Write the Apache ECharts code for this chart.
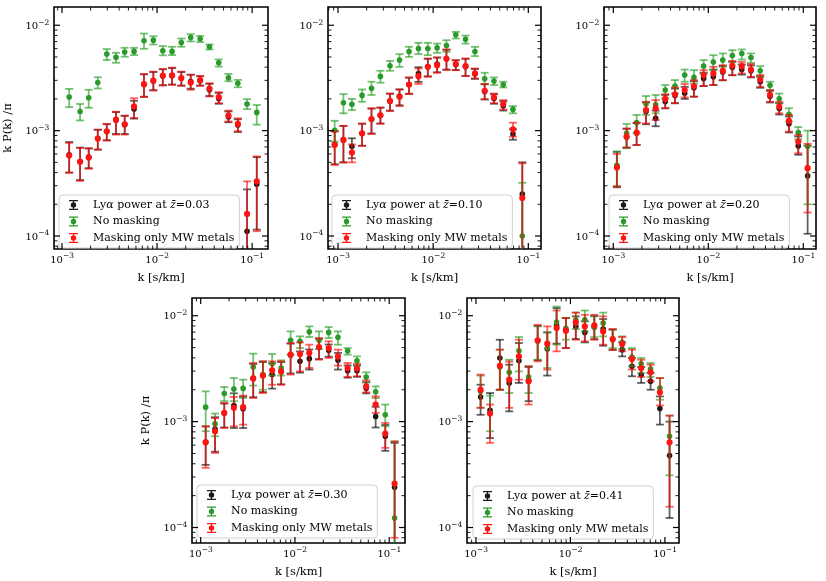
<!DOCTYPE html>
<html>
<head>
<meta charset="utf-8">
<script src="https://cdn.jsdelivr.net/npm/echarts@6/dist/echarts.min.js"></script>
<style>
html, body { margin: 0; padding: 0; background: #fff; }
#chart { width: 826px; height: 581px; }
</style>
</head>
<body>
<div id="chart"></div>
<script>
// k bins [s/km] for each redshift panel
const k1 = [1.19e-3, 1.55e-3, 1.91e-3, 2.38e-3, 2.96e-3, 3.70e-3, 4.57e-3, 5.73e-3, 7.29e-3, 9.14e-3, 1.15e-2, 1.44e-2, 1.80e-2, 2.26e-2, 2.84e-2, 3.56e-2, 4.46e-2, 5.64e-2, 7.08e-2, 8.85e-2, 0.112];
const k2 = [9.23e-4, 1.14e-3, 1.40e-3, 1.79e-3, 2.25e-3, 2.79e-3, 3.52e-3, 4.43e-3, 5.58e-3, 7.01e-3, 8.79e-3, 1.10e-2, 1.38e-2, 1.73e-2, 2.19e-2, 2.75e-2, 3.48e-2, 4.36e-2, 5.46e-2, 6.90e-2, 8.65e-2];
const k3 = [1.09e-3, 1.38e-3, 1.76e-3, 2.21e-3, 2.79e-3, 3.52e-3, 4.46e-3, 5.64e-3, 7.06e-3, 8.93e-3, 1.13e-2, 1.42e-2, 1.79e-2, 2.25e-2, 2.81e-2, 3.52e-2, 4.46e-2, 5.58e-2, 7.06e-2, 8.85e-2, 0.111];
const k4 = [1.13e-3, 1.42e-3, 1.78e-3, 2.25e-3, 2.82e-3, 3.61e-3, 4.57e-3, 5.73e-3, 7.14e-3, 8.99e-3, 1.13e-2, 1.42e-2, 1.80e-2, 2.28e-2, 2.86e-2, 3.62e-2, 4.55e-2, 5.70e-2, 7.18e-2, 9.08e-2, 0.114];
const k5 = [1.12e-3, 1.41e-3, 1.79e-3, 2.25e-3, 2.85e-3, 3.61e-3, 4.50e-3, 5.69e-3, 7.14e-3, 8.95e-3, 1.14e-2, 1.42e-2, 1.79e-2, 2.22e-2, 2.80e-2, 3.53e-2, 4.48e-2, 5.61e-2, 7.05e-2, 8.85e-2, 0.112];

// [value, lower, upper] of k P(k)/pi
const black1 = [[5.9e-4,4.0e-4,7.8e-4],[5.1e-4,3.4e-4,6.9e-4],[5.6e-4,4.4e-4,6.8e-4],[8.4e-4,6.6e-4,1.02e-3],[9.8e-4,8.1e-4,1.15e-3],[1.26e-3,9.3e-4,1.50e-3],[1.14e-3,9.3e-4,1.38e-3],[1.60e-3,1.30e-3,1.92e-3],[2.74e-3,2.10e-3,3.42e-3],[2.96e-3,2.42e-3,3.60e-3],[3.30e-3,2.70e-3,3.82e-3],[3.32e-3,2.74e-3,3.92e-3],[3.14e-3,2.68e-3,3.60e-3],[2.92e-3,2.50e-3,3.40e-3],[2.98e-3,2.68e-3,3.28e-3],[2.44e-3,2.13e-3,2.78e-3],[2.02e-3,1.80e-3,2.28e-3],[1.35e-3,1.20e-3,1.52e-3],[1.13e-3,9.7e-4,1.28e-3],[1.11e-4,3e-5,2.77e-4],[3.10e-4,1.15e-4,5.60e-4]];
const green1 = [[2.08e-3,1.67e-3,2.49e-3],[1.52e-3,1.25e-3,1.79e-3],[2.05e-3,1.65e-3,2.44e-3],[2.86e-3,2.51e-3,3.21e-3],[5.33e-3,4.68e-3,5.94e-3],[4.96e-3,4.41e-3,5.48e-3],[5.56e-3,5.03e-3,6.11e-3],[5.65e-3,5.21e-3,6.11e-3],[7.12e-3,5.98e-3,8.34e-3],[7.22e-3,6.57e-3,7.87e-3],[5.73e-3,5.18e-3,6.34e-3],[5.65e-3,5.21e-3,6.25e-3],[6.86e-3,6.25e-3,7.48e-3],[7.65e-3,7.02e-3,8.22e-3],[7.43e-3,6.92e-3,7.93e-3],[6.25e-3,5.89e-3,6.57e-3],[4.41e-3,4.05e-3,4.74e-3],[3.18e-3,2.94e-3,3.45e-3],[2.82e-3,2.58e-3,3.03e-3],[1.79e-3,1.60e-3,1.99e-3],[1.49e-3,1.14e-3,1.75e-3]];
const red1 = [[5.81e-4,3.99e-4,7.65e-4],[5.06e-4,3.33e-4,6.86e-4],[5.56e-4,4.35e-4,6.76e-4],[8.41e-4,6.62e-4,1.02e-3],[9.86e-4,8.05e-4,1.16e-3],[1.27e-3,9.17e-4,1.51e-3],[1.15e-3,9.17e-4,1.39e-3],[1.70e-3,1.32e-3,2.03e-3],[2.76e-3,2.08e-3,3.45e-3],[2.98e-3,2.40e-3,3.63e-3],[3.33e-3,2.68e-3,3.85e-3],[3.35e-3,2.72e-3,3.96e-3],[3.16e-3,2.66e-3,3.63e-3],[2.86e-3,2.44e-3,3.38e-3],[3.01e-3,2.66e-3,3.30e-3],[2.51e-3,2.11e-3,2.82e-3],[2.08e-3,1.82e-3,2.32e-3],[1.39e-3,1.22e-3,1.55e-3],[1.16e-3,9.86e-4,1.31e-3],[1.62e-4,3e-5,3.30e-4],[3.30e-4,1.11e-4,5.69e-4]];

const black2 = [[7.4e-4,4.8e-4,9.9e-4],[8.2e-4,5.0e-4,1.11e-3],[7.06e-4,5.47e-4,8.46e-4],[9.4e-4,7.2e-4,1.16e-3],[1.28e-3,9.4e-4,1.62e-3],[1.40e-3,1.17e-3,1.65e-3],[1.90e-3,1.55e-3,2.24e-3],[2.12e-3,1.74e-3,2.46e-3],[2.74e-3,2.24e-3,3.18e-3],[3.49e-3,2.90e-3,4.00e-3],[4.03e-3,3.28e-3,4.80e-3],[4.28e-3,3.58e-3,4.94e-3],[4.80e-3,3.80e-3,5.85e-3],[4.25e-3,3.75e-3,4.65e-3],[4.05e-3,3.30e-3,4.80e-3],[3.45e-3,3.10e-3,3.85e-3],[2.35e-3,1.98e-3,2.75e-3],[2.02e-3,1.80e-3,2.22e-3],[1.72e-3,1.55e-3,1.90e-3],[9.29e-4,8.2e-4,1.03e-3],[2.5e-4,3e-5,5.0e-4]];
const green2 = [[1.01e-3,7.87e-4,1.24e-3],[1.84e-3,1.46e-3,2.22e-3],[1.78e-3,1.57e-3,2.00e-3],[2.16e-3,1.88e-3,2.46e-3],[2.52e-3,2.18e-3,2.91e-3],[3.27e-3,2.85e-3,3.70e-3],[4.12e-3,3.70e-3,4.59e-3],[4.67e-3,4.03e-3,5.32e-3],[5.63e-3,5.01e-3,6.24e-3],[6.01e-3,5.32e-3,6.81e-3],[6.01e-3,5.20e-3,6.81e-3],[6.10e-3,5.47e-3,6.70e-3],[6.42e-3,5.59e-3,7.21e-3],[8.11e-3,7.48e-3,8.65e-3],[7.37e-3,6.70e-3,7.98e-3],[5.63e-3,5.09e-3,6.24e-3],[3.10e-3,2.77e-3,3.54e-3],[2.95e-3,2.71e-3,3.20e-3],[2.72e-3,2.57e-3,2.91e-3],[1.59e-3,1.46e-3,1.71e-3],[1.0e-4,3e-5,3.2e-4]];
const red2 = [[7.31e-4,4.73e-4,9.79e-4],[8.17e-4,4.98e-4,1.11e-3],[6.2e-4,5.0e-4,7.4e-4],[9.44e-4,7.16e-4,1.17e-3],[1.29e-3,9.29e-4,1.63e-3],[1.40e-3,1.16e-3,1.66e-3],[1.91e-3,1.53e-3,2.25e-3],[2.10e-3,1.71e-3,2.46e-3],[2.74e-3,2.22e-3,3.20e-3],[3.29e-3,2.77e-3,3.89e-3],[4.03e-3,3.24e-3,4.84e-3],[4.18e-3,3.54e-3,4.94e-3],[4.80e-3,3.75e-3,5.89e-3],[4.28e-3,3.75e-3,4.67e-3],[4.09e-3,3.29e-3,4.84e-3],[3.49e-3,3.13e-3,3.89e-3],[2.39e-3,1.98e-3,2.77e-3],[2.07e-3,1.82e-3,2.25e-3],[1.79e-3,1.59e-3,1.95e-3],[1.03e-3,8.77e-4,1.19e-3],[2.3e-4,3e-5,4.9e-4]];

const black3 = [[4.6e-4,2.9e-4,6.3e-4],[8.7e-4,6.9e-4,1.04e-3],[9.5e-4,7.3e-4,1.18e-3],[1.52e-3,1.15e-3,1.85e-3],[1.31e-3,1.10e-3,1.55e-3],[1.89e-3,1.63e-3,2.18e-3],[2.15e-3,1.82e-3,2.50e-3],[2.26e-3,2.00e-3,2.60e-3],[2.55e-3,2.10e-3,2.95e-3],[3.13e-3,2.65e-3,3.55e-3],[3.24e-3,2.71e-3,3.80e-3],[3.60e-3,3.00e-3,4.10e-3],[4.00e-3,3.35e-3,4.50e-3],[3.80e-3,3.40e-3,4.25e-3],[3.70e-3,3.20e-3,4.15e-3],[2.91e-3,2.55e-3,3.25e-3],[2.12e-3,1.85e-3,2.38e-3],[1.62e-3,1.42e-3,1.82e-3],[1.16e-3,9.6e-4,1.36e-3],[7.16e-4,5.9e-4,8.8e-4],[3.72e-4,1.05e-4,7.2e-4]];
const green3 = [[4.70e-4,2.99e-4,6.33e-4],[9.44e-4,6.81e-4,1.16e-3],[1.19e-3,9.44e-4,1.41e-3],[1.79e-3,1.41e-3,2.13e-3],[1.76e-3,1.46e-3,2.18e-3],[2.43e-3,2.02e-3,2.71e-3],[2.65e-3,2.25e-3,3.02e-3],[3.37e-3,2.91e-3,3.80e-3],[3.20e-3,2.81e-3,3.75e-3],[4.09e-3,3.49e-3,4.67e-3],[4.47e-3,3.75e-3,5.20e-3],[4.67e-3,4.03e-3,5.40e-3],[5.16e-3,4.50e-3,5.80e-3],[5.40e-3,4.73e-3,5.89e-3],[4.94e-3,4.40e-3,5.40e-3],[3.70e-3,3.29e-3,4.09e-3],[2.69e-3,2.43e-3,2.91e-3],[2.01e-3,1.82e-3,2.25e-3],[1.43e-3,1.22e-3,1.63e-3],[9.57e-4,8.28e-4,1.08e-3],[7.06e-4,2.0e-4,1.0e-3]];
const red3 = [[4.47e-4,2.95e-4,6.01e-4],[8.77e-4,6.91e-4,1.05e-3],[9.57e-4,7.31e-4,1.19e-3],[1.57e-3,1.17e-3,1.88e-3],[1.63e-3,1.26e-3,1.95e-3],[2.00e-3,1.63e-3,2.22e-3],[2.21e-3,1.82e-3,2.57e-3],[2.43e-3,2.07e-3,2.77e-3],[2.65e-3,2.10e-3,3.02e-3],[3.37e-3,2.65e-3,3.75e-3],[3.49e-3,2.71e-3,4.03e-3],[3.70e-3,3.02e-3,4.18e-3],[4.15e-3,3.37e-3,4.59e-3],[4.09e-3,3.49e-3,4.50e-3],[3.80e-3,3.24e-3,4.28e-3],[3.06e-3,2.61e-3,3.37e-3],[2.19e-3,1.88e-3,2.43e-3],[1.69e-3,1.46e-3,1.88e-3],[1.24e-3,9.79e-4,1.41e-3],[7.87e-4,6.10e-4,9.10e-4],[4.40e-4,1.67e-4,7.5e-4]];

const black4 = [[6.4e-4,3.9e-4,9.0e-4],[8.5e-4,5.2e-4,1.10e-3],[1.20e-3,8.8e-4,1.48e-3],[1.42e-3,8.7e-4,1.85e-3],[1.32e-3,8.7e-4,1.72e-3],[2.56e-3,1.70e-3,3.50e-3],[2.72e-3,1.90e-3,3.65e-3],[2.78e-3,2.05e-3,3.55e-3],[2.95e-3,2.25e-3,3.65e-3],[4.25e-3,2.85e-3,5.45e-3],[3.71e-3,2.90e-3,4.60e-3],[3.93e-3,3.10e-3,4.80e-3],[5.00e-3,3.90e-3,6.05e-3],[4.71e-3,4.10e-3,5.35e-3],[3.79e-3,3.10e-3,4.45e-3],[3.03e-3,2.60e-3,3.40e-3],[3.03e-3,2.65e-3,3.40e-3],[2.07e-3,1.85e-3,2.35e-3],[1.12e-3,8.8e-4,1.38e-3],[7.27e-4,5.3e-4,9.3e-4],[2.4e-4,6e-5,6.3e-4]];
const green4 = [[1.37e-3,8.11e-4,1.93e-3],[9.51e-4,7.27e-4,1.19e-3],[1.84e-3,1.56e-3,2.12e-3],[2.03e-3,1.56e-3,2.58e-3],[2.06e-3,1.67e-3,2.49e-3],[3.28e-3,2.19e-3,4.38e-3],[2.78e-3,2.00e-3,3.71e-3],[3.52e-3,2.72e-3,4.35e-3],[3.21e-3,2.72e-3,3.79e-3],[5.85e-3,4.29e-3,7.11e-3],[5.73e-3,4.95e-3,6.38e-3],[7.06e-3,6.29e-3,7.93e-3],[5.85e-3,4.85e-3,7.11e-3],[6.96e-3,6.15e-3,7.82e-3],[6.25e-3,5.33e-3,7.11e-3],[4.64e-3,4.29e-3,4.95e-3],[3.76e-3,3.38e-3,4.13e-3],[2.64e-3,2.35e-3,2.92e-3],[1.91e-3,1.67e-3,2.15e-3],[1.16e-3,9.04e-4,1.45e-3],[1.23e-4,3e-5,6.5e-4]];
const red4 = [[6.38e-4,3.66e-4,9.04e-4],[8.11e-4,5.06e-4,1.08e-3],[1.21e-3,8.71e-4,1.50e-3],[1.35e-3,9.04e-4,1.71e-3],[1.37e-3,9.37e-4,1.76e-3],[2.56e-3,1.67e-3,3.58e-3],[2.72e-3,1.86e-3,3.71e-3],[3.05e-3,2.23e-3,3.71e-3],[2.98e-3,2.23e-3,3.71e-3],[4.29e-3,2.78e-3,5.52e-3],[4.35e-3,2.98e-3,5.60e-3],[4.45e-3,3.21e-3,5.33e-3],[5.06e-3,3.84e-3,6.15e-3],[4.95e-3,3.99e-3,5.73e-3],[4.13e-3,3.38e-3,4.78e-3],[3.21e-3,2.64e-3,3.58e-3],[3.19e-3,2.68e-3,3.52e-3],[2.15e-3,1.89e-3,2.45e-3],[1.45e-3,1.21e-3,1.73e-3],[7.71e-4,5.65e-4,9.71e-4],[2.6e-4,8e-5,6.5e-4]];

const black5 = [[1.71e-3,1.16e-3,2.23e-3],[1.28e-3,7.0e-4,1.86e-3],[3.99e-3,2.00e-3,5.93e-3],[2.32e-3,1.25e-3,3.45e-3],[3.76e-3,2.32e-3,5.52e-3],[2.45e-3,1.56e-3,3.28e-3],[5.80e-3,3.80e-3,8.0e-3],[4.85e-3,2.72e-3,6.96e-3],[8.05e-3,5.45e-3,1.18e-2],[7.38e-3,4.95e-3,9.5e-3],[7.93e-3,6.03e-3,9.86e-3],[6.96e-3,5.60e-3,8.85e-3],[7.8e-3,6.0e-3,9.9e-3],[7.49e-3,5.21e-3,9.3e-3],[5.95e-3,4.75e-3,7.4e-3],[4.78e-3,4.13e-3,5.60e-3],[3.33e-3,2.68e-3,3.99e-3],[2.78e-3,2.32e-3,3.28e-3],[2.40e-3,2.00e-3,2.88e-3],[1.33e-3,9.37e-4,1.73e-3],[4.78e-4,1.23e-4,1.0e-3]];
const green5 = [[1.93e-3,1.35e-3,2.72e-3],[1.20e-3,8.11e-4,1.76e-3],[3.28e-3,2.00e-3,4.78e-3],[2.92e-3,1.86e-3,3.84e-3],[4.67e-3,2.98e-3,6.29e-3],[2.64e-3,1.86e-3,3.33e-3],[5.73e-3,3.84e-3,7.93e-3],[4.95e-3,3.21e-3,6.96e-3],[8.71e-3,5.33e-3,1.22e-2],[7.60e-3,5.94e-3,9.50e-3],[9.17e-3,7.48e-3,1.07e-2],[9.17e-3,7.11e-3,1.12e-2],[7.82e-3,6.29e-3,1.0e-2],[8.52e-3,6.38e-3,1.07e-2],[6.03e-3,4.95e-3,7.38e-3],[5.60e-3,4.85e-3,6.38e-3],[4.07e-3,3.33e-3,4.95e-3],[3.52e-3,2.88e-3,3.99e-3],[3.14e-3,2.64e-3,3.58e-3],[2.08e-3,1.61e-3,2.58e-3],[7.27e-4,3.11e-4,1.14e-3]];
const red5 = [[2.00e-3,1.35e-3,2.78e-3],[1.19e-3,6.3e-4,1.45e-3],[3.37e-3,2.00e-3,4.78e-3],[2.49e-3,1.35e-3,3.69e-3],[4.13e-3,2.49e-3,5.94e-3],[2.40e-3,1.45e-3,3.33e-3],[5.85e-3,3.71e-3,8.22e-3],[5.45e-3,3.10e-3,7.93e-3],[7.65e-3,4.61e-3,1.12e-2],[7.22e-3,4.95e-3,9.5e-3],[8.65e-3,5.94e-3,1.07e-2],[7.93e-3,5.73e-3,1.02e-2],[8.11e-3,5.94e-3,1.02e-2],[7.11e-3,5.33e-3,9.86e-3],[6.03e-3,4.78e-3,7.48e-3],[5.41e-3,4.61e-3,6.29e-3],[3.90e-3,3.10e-3,4.78e-3],[3.19e-3,2.64e-3,3.84e-3],[2.92e-3,2.40e-3,3.45e-3],[1.89e-3,1.42e-3,2.58e-3],[6.38e-4,1.57e-4,1.14e-3]];

const redshifts = ['0.03', '0.10', '0.20', '0.30', '0.41'];
const decades = [-5, -4, -3, -2, -1, 0];
const mantissas = [1, 2, 3, 4, 5, 6, 7, 8, 9];

const FONT = 'DejaVu Serif';
const BLACK = '#1a1a1a', GREEN = '#2a9a2a', RED = '#ff1414';
const BLACK_BAR = 'rgba(0,0,0,0.62)', GREEN_BAR = 'rgba(40,160,40,0.65)', RED_BAR = 'rgba(255,0,0,0.62)';

const panels = [
    {k: k1, black: black1, green: green1, red: red1,
        grid: {left: 54, top: 7, width: 214, height: 242}, xr: [8.24e-4, 0.147], yr: [7.53e-5, 1.49e-2],
        legend: {left: 59, top: 195}, yName: true},
    {k: k2, black: black2, green: green2, red: red2,
        grid: {left: 328, top: 7, width: 213, height: 242}, xr: [7.85e-4, 0.136], yr: [7.53e-5, 1.49e-2],
        legend: {left: 332, top: 195}},
    {k: k3, black: black3, green: green3, red: red3,
        grid: {left: 604, top: 7, width: 212, height: 242}, xr: [7.98e-4, 0.136], yr: [7.53e-5, 1.49e-2],
        legend: {left: 609, top: 195}},
    {k: k4, black: black4, green: green4, red: red4,
        grid: {left: 192, top: 298, width: 213, height: 245}, xr: [8.09e-4, 0.147], yr: [7.14e-5, 1.47e-2],
        legend: {left: 197, top: 485}, yName: true},
    {k: k5, black: black5, green: green5, red: red5,
        grid: {left: 467, top: 298, width: 212, height: 245}, xr: [8.04e-4, 0.141], yr: [7.14e-5, 1.47e-2],
        legend: {left: 473, top: 486}}
];

const ICON = 'path://M0,0H9V1.2H0Z M3.9,0H5.1V10H3.9Z M0,8.8H9V10H0Z M7.2,5A2.7,2.7,0,1,1,1.8,5A2.7,2.7,0,1,1,7.2,5Z';

function errorBarItem(dotColor, barColor, radius) {
    return function (params, api) {
        const k = api.value(0);
        const c = api.coord([k, api.value(1)]);
        const lo = api.coord([k, api.value(2)]);
        const hi = api.coord([k, api.value(3)]);
        const cap = 4;
        const bar = {stroke: barColor, lineWidth: 1.8};
        return {
            type: 'group',
            children: [
                {type: 'line', shape: {x1: c[0], y1: hi[1], x2: c[0], y2: lo[1]}, style: bar},
                {type: 'line', shape: {x1: c[0] - cap, y1: hi[1], x2: c[0] + cap, y2: hi[1]}, style: bar},
                {type: 'line', shape: {x1: c[0] - cap, y1: lo[1], x2: c[0] + cap, y2: lo[1]}, style: bar},
                {type: 'circle', shape: {cx: c[0], cy: c[1], r: radius}, style: {fill: dotColor}}
            ]
        };
    };
}

// inward ticks on all four sides plus the decade labels
function frameItem(xr, yr) {
    return function (params, api) {
        const cs = params.coordSys;
        const left = cs.x, right = cs.x + cs.width, top = cs.y, bottom = cs.y + cs.height;
        const children = [];
        const tick = (x1, y1, x2, y2, major) => children.push({
            type: 'line', shape: {x1, y1, x2, y2},
            style: {stroke: '#000', lineWidth: major ? 1.2 : 0.9}
        });
        const label = (x, y, d, align) => {
            const sup = '\u2212' + Math.abs(d);
            const wBase = 12.7, wSup = 10.8;
            const x0 = align === 'center' ? x - (wBase + wSup) / 2 : x - wBase - wSup;
            children.push({type: 'text', x: x0, y: y,
                style: {text: '10', fontFamily: FONT, fontSize: 10, fill: '#000', align: 'left', verticalAlign: 'middle'}});
            children.push({type: 'text', x: x0 + wBase, y: y - 3.5,
                style: {text: sup, fontFamily: FONT, fontSize: 7.5, fill: '#000', align: 'left', verticalAlign: 'middle'}});
        };
        decades.forEach(d => mantissas.forEach(m => {
            const v = m * Math.pow(10, d);
            const major = m === 1;
            const len = major ? 6 : 3.5;
            if (v >= xr[0] && v <= xr[1]) {
                const x = api.coord([v, yr[0]])[0];
                tick(x, bottom, x, bottom - len, major);
                tick(x, top, x, top + len, major);
                if (major) label(x, bottom + 11, d, 'center');
            }
            if (v >= yr[0] && v <= yr[1]) {
                const y = api.coord([xr[0], v])[1];
                tick(left, y, left + len, y, major);
                tick(right, y, right - len, y, major);
                if (major) label(left - 5, y + 1, d, 'right');
            }
        }));
        return {type: 'group', children};
    };
}

const chart = echarts.init(document.getElementById('chart'));

const grids = [], xAxes = [], yAxes = [], legends = [], series = [];
panels.forEach((p, i) => {
    const blackName = 'Ly\u03b1 power at z\u0304=' + redshifts[i];
    grids.push({...p.grid, show: true, borderColor: '#000', borderWidth: 1.6, backgroundColor: 'transparent'});
    xAxes.push({
        gridIndex: i, type: 'log', logBase: 10, min: p.xr[0], max: p.xr[1],
        axisLine: {show: false}, axisTick: {show: false}, axisLabel: {show: false}, splitLine: {show: false},
        name: 'k [s/km]', nameLocation: 'middle', nameGap: 23,
        nameTextStyle: {fontFamily: FONT, fontSize: 11.5, color: '#000'}
    });
    yAxes.push({
        gridIndex: i, type: 'log', logBase: 10, min: p.yr[0], max: p.yr[1],
        axisLine: {show: false}, axisTick: {show: false}, axisLabel: {show: false}, splitLine: {show: false},
        name: p.yName ? 'k P(k) /\u03c0' : '', nameLocation: 'middle', nameGap: 40, nameRotate: 90,
        nameTextStyle: {fontFamily: FONT, fontSize: 11.5, color: '#000'}
    });
    legends.push({
        ...p.legend, orient: 'vertical', selectedMode: false,
        data: [blackName, 'No masking', 'Masking only MW metals'],
        icon: ICON, itemWidth: 9, itemHeight: 10, itemGap: 2.5,
        padding: [3, 5, 3, 10],
        backgroundColor: 'rgba(255,255,255,0.8)', borderColor: '#d0d0d0', borderWidth: 1, borderRadius: 4,
        textStyle: {
            fontFamily: FONT, fontSize: 11, color: '#000', lineHeight: 14, padding: [0, 0, 0, 10],
            rich: {i: {fontFamily: FONT, fontSize: 11, fontStyle: 'italic', color: '#000'}}
        },
        formatter: name => name.replace('\u03b1', '{i|\u03b1}').replace('z\u0304', '{i|z\u0304}')
    });
    const sets = [
        [blackName, p.black, BLACK, BLACK_BAR, 2.8],
        ['No masking', p.green, GREEN, GREEN_BAR, 2.8],
        ['Masking only MW metals', p.red, RED, RED_BAR, 3.1]
    ];
    sets.forEach(([name, vals, dot, bar, r]) => {
        series.push({
            name, type: 'custom', xAxisIndex: i, yAxisIndex: i, clip: true,
            itemStyle: {color: dot},
            renderItem: errorBarItem(dot, bar, r),
            encode: {x: 0, y: 1},
            data: p.k.map((kv, j) => [kv, vals[j][0], vals[j][1], vals[j][2]])
        });
    });
    series.push({
        type: 'custom', xAxisIndex: i, yAxisIndex: i, silent: true, z: 5,
        renderItem: frameItem(p.xr, p.yr),
        encode: {x: 0, y: 1},
        data: [[1e-2, 1e-3]]
    });
});

chart.setOption({
    animation: false,
    backgroundColor: '#fff',
    grid: grids,
    xAxis: xAxes,
    yAxis: yAxes,
    legend: legends,
    tooltip: {show: false},
    series
});
</script>
</body>
</html>
